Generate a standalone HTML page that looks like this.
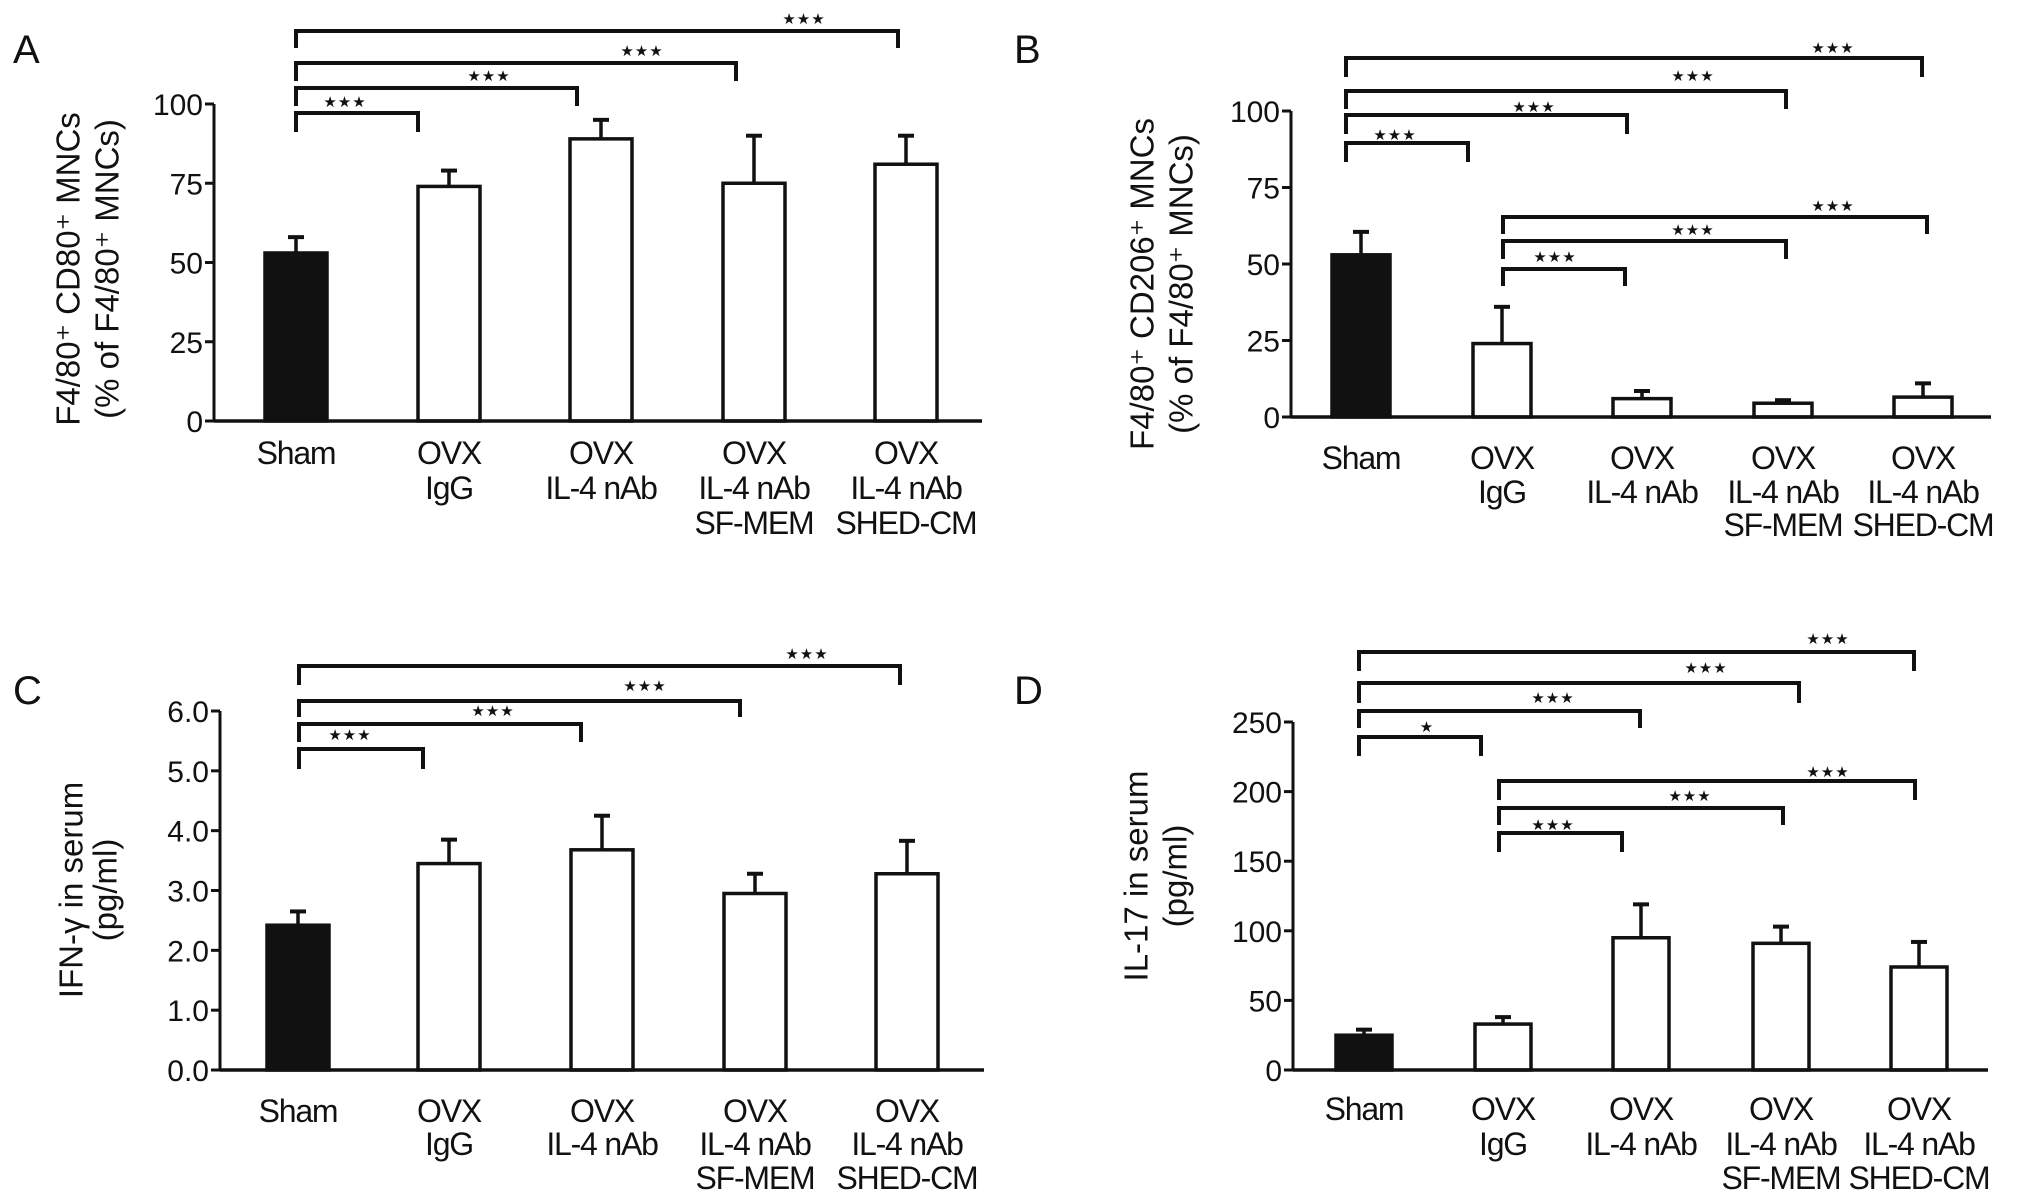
<!DOCTYPE html>
<html><head><meta charset="utf-8"><style>
html,body{margin:0;padding:0;background:#fff;}
svg{display:block;}
text{font-family:"Liberation Sans",Arial,sans-serif;fill:#111;}
</style></head><body>
<svg id="fig" width="2032" height="1204" viewBox="0 0 2032 1204" xmlns="http://www.w3.org/2000/svg"></svg>
<script>
// ---- Panel A data ----
const catsA = [["Sham"],["OVX","IgG"],["OVX","IL-4 nAb"],["OVX","IL-4 nAb","SF-MEM"],["OVX","IL-4 nAb","SHED-CM"]];
const valuesA = [53, 74, 89, 75, 81];
const errA = [58, 79, 95, 90, 90];
const ticksA = ["0","25","50","75","100"];
const tickValsA = [0,25,50,75,100];
// ---- Panel B data ----
const valuesB = [53, 24, 6, 4.5, 6.5];
const errB = [60.5, 36, 8.5, 5.5, 11];
const ticksB = ["0","25","50","75","100"];
const tickValsB = [0,25,50,75,100];
// ---- Panel C data ----
const valuesC = [2.42, 3.45, 3.68, 2.95, 3.28];
const errC = [2.65, 3.85, 4.25, 3.28, 3.83];
const ticksC = ["0.0","1.0","2.0","3.0","4.0","5.0","6.0"];
const tickValsC = [0,1,2,3,4,5,6];
// ---- Panel D data ----
const valuesD = [25, 33, 95, 91, 74];
const errD = [29, 38, 119, 103, 92];
const ticksD = ["0","50","100","150","200","250"];
const tickValsD = [0,50,100,150,200,250];

const NS="http://www.w3.org/2000/svg";
const svg=document.getElementById('fig');
function mk(tag,attrs,parent,txt){const e=document.createElementNS(NS,tag);for(const k in attrs)e.setAttribute(k,attrs[k]);if(txt!==undefined)e.textContent=txt;(parent||svg).appendChild(e);return e;}

const panels=[
 {id:'a',label:'A',lx:13,ly:63,ax:214,x0:214,x1:982,y0:421,yTop:104,vmax:100,centers:[296,449,601,754,906],bw:62,
  vals:valuesA,errs:errA,ticks:ticksA,tv:tickValsA,
  title:["F4/80⁺ CD80⁺ MNCs","(% of F4/80⁺ MNCs)"],tx:[68,107],ty:269,
  lab:[464,499,534],
  br:[[296,418,113,132,345,101],[296,577,88,106,489,75],[296,736,63,81,642,50],[296,898,31,48,804,18]]},
 {id:'b',label:'B',lx:1014,ly:63,ax:1291,x0:1291,x1:1991,y0:417,yTop:111,vmax:100,centers:[1361,1502,1642,1783,1923],bw:58,
  vals:valuesB,errs:errB,ticks:ticksB,tv:tickValsB,
  title:["F4/80⁺ CD206⁺ MNCs","(% of F4/80⁺ MNCs)"],tx:[1142,1181],ty:284,
  lab:[469,503,536],
  br:[[1346,1468,143,162,1395,134],[1346,1627,115,134,1534,106],[1346,1786,91,109,1693,75],[1346,1922,58,77,1833,47],
      [1503,1625,269,286,1555,256],[1503,1786,241,259,1693,229],[1503,1927,217,234,1833,205]]},
 {id:'c',label:'C',lx:13,ly:704,ax:220,x0:220,x1:984,y0:1070,yTop:711,vmax:6,centers:[298,449,602,755,907],bw:62,
  vals:valuesC,errs:errC,ticks:ticksC,tv:tickValsC,
  title:["IFN-γ in serum","(pg/ml)"],tx:[71,105],ty:890,
  lab:[1122,1155,1189],
  br:[[299,423,749,769,350,734],[299,581,724,742,493,710],[299,740,701,717,645,685],[299,900,666,685,807,653]]},
 {id:'d',label:'D',lx:1014,ly:704,ax:1293,x0:1293,x1:1988,y0:1070,yTop:722,vmax:250,centers:[1364,1503,1641,1781,1919],bw:56,
  vals:valuesD,errs:errD,ticks:ticksD,tv:tickValsD,
  title:["IL-17 in serum","(pg/ml)"],tx:[1136,1175],ty:876,
  lab:[1120,1155,1189],
  br:[[1359,1481,737,756,1427,726,'★'],[1359,1640,711,728,1553,697],[1359,1799,683,703,1706,667],[1359,1914,652,671,1828,638],
      [1499,1622,833,852,1553,824],[1499,1783,808,825,1690,795],[1499,1915,781,800,1828,771]]}
];

panels.forEach(p=>{
  const g=mk('g',{});
  
  
  const yS=v=>p.y0-(v/p.vmax)*(p.y0-p.yTop);
  const lbl=mk('text',{x:p.lx,y:p.ly,'font-size':40},g,p.label);
  
  
  p.title.forEach((t,i)=>{
    const tt=mk('text',{x:p.tx[i],y:p.ty,'font-size':33,'text-anchor':'middle','dominant-baseline':'central',transform:`rotate(-90 ${p.tx[i]} ${p.ty})`},g,t);
    
    
  });
  p.vals.forEach((v,i)=>{
    const cx=p.centers[i];
    const et=yS(p.errs[i]);
    const eb=mk('line',{x1:cx,x2:cx,y1:yS(v),y2:et,stroke:'#111','stroke-width':3.5},g);
    
    
    const ec=mk('line',{x1:cx-8,x2:cx+8,y1:et,y2:et,stroke:'#111','stroke-width':4},g);
    
    
    const r=mk('rect',{x:cx-p.bw/2,y:yS(v),width:p.bw,height:p.y0-yS(v),fill:i===0?'#111':'#fff',stroke:'#111','stroke-width':3.5},g);
    
    
    catsA[i].forEach((t,j)=>{
      const ct=mk('text',{x:cx,y:p.lab[j],'font-size':32,'text-anchor':'middle','letter-spacing':'-1.2'},g,t);
      
      
    });
  });
  const ya=mk('line',{x1:p.ax,x2:p.ax,y1:p.yTop,y2:p.y0+1.5,stroke:'#111','stroke-width':3},g);
  
  
  const xa=mk('line',{x1:p.x0,x2:p.x1,y1:p.y0,y2:p.y0,stroke:'#111','stroke-width':3.5},g);
  
  
  p.tv.forEach((v,i)=>{
    const y=yS(v);
    const tk=mk('line',{x1:p.ax-9,x2:p.ax,y1:y,y2:y,stroke:'#111','stroke-width':3},g);
    
    
    const tl=mk('text',{x:p.ax-11,y:y+11,'font-size':30,'text-anchor':'end'},g,p.ticks[i]);
    
    
  });
  p.br.forEach(b=>{
    const pl=mk('polyline',{points:`${b[0]},${b[3]} ${b[0]},${b[2]} ${b[1]},${b[2]} ${b[1]},${b[3]}`,fill:'none',stroke:'#111','stroke-width':4},g);
    
    
    const st=mk('text',{x:b[4],y:b[5]+6,'font-size':15,'text-anchor':'middle','font-family':'DejaVu Sans, sans-serif','letter-spacing':'1'},g,b[6]||'★★★');
    
    
  });
});
</script>
</body></html>
